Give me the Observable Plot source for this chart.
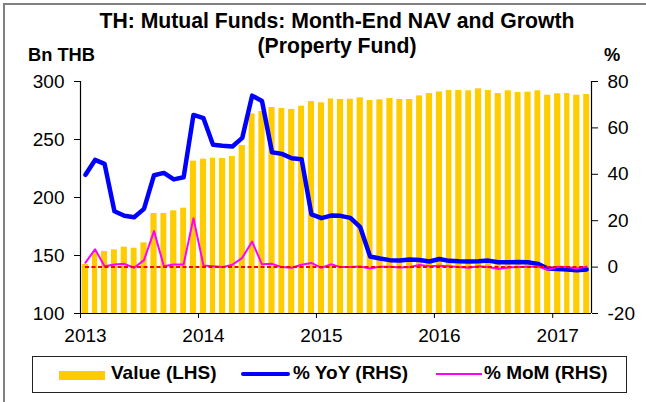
<!DOCTYPE html>
<html>
<head>
<meta charset="utf-8">
<script src="https://cdn.jsdelivr.net/npm/d3@7"></script>
<script src="https://cdn.jsdelivr.net/npm/@observablehq/plot@0.6"></script>
<style>
html, body { margin: 0; padding: 0; background: #fff; }
#wrap { position: relative; width: 646px; height: 402px; overflow: hidden; font-family: "Liberation Sans", Arial, sans-serif; color: #000; }
#frame { position: absolute; left: 3px; top: 3px; width: 800px; height: 500px; border-top: 2px solid #808080; border-left: 2px solid #808080; z-index: 5; pointer-events: none; }
#chart { position: absolute; left: 0; top: 0; }
.t { position: absolute; font-weight: bold; white-space: nowrap; }
.title { left: 0; width: 674px; text-align: center; font-size: 21.2px; line-height: 21px; }
#legend { position: absolute; left: 32px; top: 356px; width: 593px; height: 35px; border: 1.5px solid #222; }
.lg { position: absolute; font-weight: bold; font-size: 19px; line-height: 19px; white-space: nowrap; }
.sw { position: absolute; }
</style>
</head>
<body>
<div id="wrap">
  <div id="chart"></div>
  <div class="t title" style="top:10px;">TH: Mutual Funds: Month-End NAV and Growth</div>
  <div class="t title" style="top:35px;">(Property Fund)</div>
  <div class="t" style="left:28px; top:46px; font-size:18.3px; line-height:18px;">Bn THB</div>
  <div class="t" style="left:604px; top:46px; font-size:18.3px; line-height:18px;">%</div>
  <div id="legend"></div>
  <div class="sw" style="left:59px; top:371px; width:46px; height:9px; background:#FFCC00;"></div>
  <div class="lg" style="left:111px; top:363px;">Value (LHS)</div>
  <div class="sw" style="left:241px; top:372px; width:49px; height:4px; background:#0000FF; border-radius:2px;"></div>
  <div class="lg" style="left:293px; top:363px;">% YoY (RHS)</div>
  <div class="sw" style="left:436px; top:373px; width:46px; height:2px; background:#FF00FF;"></div>
  <div class="lg" style="left:484px; top:363px;">% MoM (RHS)</div>
  <div id="frame"></div>
</div>
<script>
// ---- data (monthly, Jan 2013 .. Apr 2017) ----
const firstMonth = "2013-01";
const lastMonth = "2017-04";

const navValue = [
  142.2, 152.5, 153.4, 154.9, 157.2, 156.3, 160.9, 186.2, 186.2, 188.5, 190.8, 231.3,
  233.0, 233.9, 233.6, 235.3, 244.8, 272.1, 274.1, 277.6, 276.7, 275.9, 278.7, 282.7,
  281.6, 285.0, 284.5, 284.7, 285.9, 283.6, 284.2, 285.3, 284.5, 284.5, 287.6, 289.6,
  291.0, 292.3, 292.2, 292.0, 293.7, 292.2, 289.6, 292.0, 290.5, 290.8, 292.0, 288.2,
  289.4, 289.6, 288.2, 288.8
];

const yoyPct = [
  39.8, 46.2, 44.5, 24.1, 22.1, 21.5, 25.1, 39.6, 40.6, 37.8, 38.7, 65.6,
  64.2, 52.7, 52.3, 52.0, 55.7, 73.9, 71.6, 49.5, 48.8, 46.9, 46.5, 22.7,
  21.1, 22.2, 22.1, 21.2, 17.2, 4.6, 3.7, 3.0, 2.8, 3.3, 3.1, 2.4,
  3.5, 2.7, 2.5, 2.4, 2.5, 2.8, 2.1, 2.1, 2.2, 2.1, 1.4, -0.6,
  -0.8, -1.0, -1.4, -1.0
];

const momPct = [
  1.9, 7.7, 0.4, 1.1, 1.4, -0.3, 3.0, 15.5, 0.4, 1.1, 1.1, 21.1,
  0.7, 0.4, 0.0, 1.0, 4.0, 11.0, 1.2, 1.4, 0.0, -0.3, 1.0, 1.8,
  -0.3, 1.2, 0.0, 0.0, 0.3, -0.6, 0.2, 0.2, -0.2, 0.0, 0.9, 0.4,
  0.6, 0.4, 0.0, -0.3, 0.4, 0.0, -0.8, -0.2, 0.0, 0.2, 0.3, -1.2,
  0.1, 0.0, -0.6, 0.2
];

const leftTicks = [100, 150, 200, 250, 300];
const rightTicks = [-20, 0, 20, 40, 60, 80];
const yearLabels = [2013, 2014, 2015, 2016, 2017];

// ---- build table ----
const parseM = d3.utcParse("%Y-%m");
const start = parseM(firstMonth);
const end = d3.utcMonth.offset(parseM(lastMonth), 1);
const months = d3.utcMonth.range(start, end);
const midOf = (m) => new Date((+m + +d3.utcMonth.offset(m, 1)) / 2);

const rows = months.map((m, i) => ({
  date: m,
  next: d3.utcMonth.offset(m, 1),
  mid: midOf(m),
  value: navValue[i],
  yoy: yoyPct[i],
  mom: momPct[i]
}));

// right-hand (%) axis mapped onto the left-hand value scale
const pctToY = d3.scaleLinear()
  .domain([rightTicks[0], rightTicks[rightTicks.length - 1]])
  .range([leftTicks[0], leftTicks[leftTicks.length - 1]]);

const yBase = leftTicks[0];
const yearStarts = yearLabels.map(y => new Date(Date.UTC(y, 0, 1)));
const yearMids = yearStarts.map(midOf);
const fs = 19;

const chart = Plot.plot({
  width: 646,
  height: 350,
  marginLeft: 80,
  marginRight: 55,
  marginTop: 81,
  marginBottom: 37,
  style: { fontFamily: "'Liberation Sans', Arial, sans-serif", fontSize: fs + "px", color: "#000", background: "transparent", overflow: "visible" },
  x: { type: "utc", domain: [start, end] },
  y: { domain: [leftTicks[0], leftTicks[leftTicks.length - 1]] },
  marks: [
    Plot.rect(rows, { x1: "date", x2: "next", y1: () => yBase, y2: "value", fill: "#FFCC00", insetLeft: 1.9, insetRight: 1.9 }),
    Plot.line(rows, { x: "mid", y: d => pctToY(d.yoy), stroke: "#0000FF", strokeWidth: 4.5, strokeLinejoin: "round", strokeLinecap: "round" }),
    Plot.line(rows, { x: "mid", y: d => pctToY(d.mom), stroke: "#FF00FF", strokeWidth: 2 }),
    Plot.ruleY([0], { y: d => pctToY(d), x1: () => rows[0].mid, x2: () => rows[rows.length - 1].mid, stroke: "#FF0000", strokeWidth: 2, strokeDasharray: "4,2.5" }),
    Plot.ruleX([start], { stroke: "#000", strokeWidth: 1.2 }),
    Plot.ruleX([end], { stroke: "#000", strokeWidth: 1.2 }),
    Plot.ruleY([yBase], { stroke: "#000", strokeWidth: 1.2 }),
    Plot.axisY(leftTicks, { anchor: "left", tickSize: 6, tickPadding: 10, label: null, fontSize: fs }),
    Plot.axisY(rightTicks.map(pctToY), { anchor: "right", tickSize: 6, tickPadding: 10, label: null, fontSize: fs, tickFormat: d => String(Math.round(pctToY.invert(d))) }),
    Plot.axisX(yearStarts, { tickSize: 5, tickFormat: () => "", label: null }),
    Plot.axisX(yearMids, { tickSize: 0, tickPadding: 15, tickFormat: d => String(d.getUTCFullYear()), label: null, fontSize: fs })
  ]
});
document.getElementById("chart").appendChild(chart);
</script>
</body>
</html>
